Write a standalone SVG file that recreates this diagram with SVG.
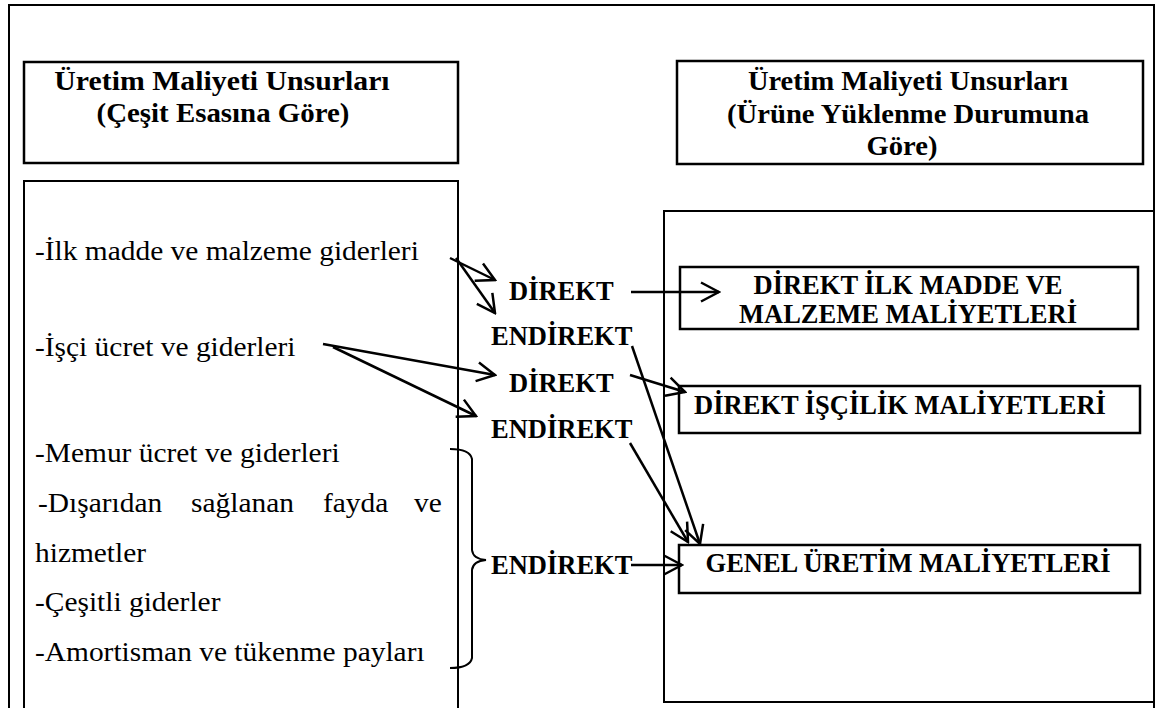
<svg xmlns="http://www.w3.org/2000/svg" width="1157" height="708" viewBox="0 0 1157 708">
  <style>
    .frame { fill: none; stroke: #000; stroke-width: 2; }
    .box { fill: #fff; stroke: #000; stroke-width: 2.5; }
    .title { font-family: "Liberation Serif", "Times New Roman", serif; font-weight: bold; font-size: 27.5px; fill: #000; text-anchor: middle; }
    .item { font-family: "Liberation Serif", "Times New Roman", serif; font-size: 27.5px; fill: #000; }
    .lbl { font-family: "Liberation Serif", "Times New Roman", serif; font-weight: bold; font-size: 26.5px; fill: #000; }
    .cap { font-family: "Liberation Serif", "Times New Roman", serif; font-weight: bold; font-size: 26.5px; fill: #000; text-anchor: middle; }
    .arrow { fill: none; stroke: #000; stroke-width: 2.5; marker-end: url(#open); }
    .brace { fill: none; stroke: #000; stroke-width: 2; }
  </style>
  <defs>
    <marker id="open" markerUnits="userSpaceOnUse" viewBox="-22 -13 24 26" markerWidth="24" markerHeight="26" refX="0" refY="0" orient="auto">
      <path d="M-18,-9.5 L0,0 L-18,9.5" fill="none" stroke="#000" stroke-width="2.5" stroke-linejoin="miter"/>
    </marker>
  </defs>

  <rect width="1157" height="708" fill="#fff"/>

  <!-- outer frame, open at the bottom -->
  <path class="frame" d="M9,708 V5 H1154 V708"/>

  <!-- left column: cost elements by type -->
  <g id="left-title">
    <rect class="box" x="24" y="62" width="434" height="101"/>
    <text class="title" transform="translate(222 90) scale(1.084 1)">Üretim Maliyeti Unsurları</text>
    <text class="title" transform="translate(223 122) scale(1.05 1)">(Çeşit Esasına Göre)</text>
  </g>

  <g id="left-list">
    <path class="frame" d="M24,708 V181 H458 V708"/>
    <text class="item" transform="translate(35 260) scale(1.07 1)">-İlk madde ve malzeme giderleri</text>
    <text class="item" transform="translate(35 356) scale(1.07 1)">-İşçi ücret ve giderleri</text>
    <text class="item" transform="translate(35 462) scale(1.07 1)">-Memur ücret ve giderleri</text>
    <text class="item" transform="translate(38 512) scale(1.07 1)">-Dışarıdan</text>
    <text class="item" transform="translate(191 512) scale(1.07 1)">sağlanan</text>
    <text class="item" transform="translate(323 512) scale(1.07 1)">fayda</text>
    <text class="item" transform="translate(414 512) scale(1.07 1)">ve</text>
    <text class="item" transform="translate(35 562) scale(1.07 1)">hizmetler</text>
    <text class="item" transform="translate(35 611) scale(1.07 1)">-Çeşitli giderler</text>
    <text class="item" transform="translate(35 661) scale(1.07 1)">-Amortisman ve tükenme payları</text>
  </g>

  <!-- right column: cost elements by assignment to product -->
  <g id="right-title">
    <rect class="box" x="677" y="61" width="466" height="103"/>
    <text class="title" transform="translate(908 90) scale(1.035 1)">Üretim Maliyeti Unsurları</text>
    <text class="title" transform="translate(908 123) scale(1.043 1)">(Ürüne Yüklenme Durumuna</text>
    <text class="title" transform="translate(902 155) scale(1.04 1)">Göre)</text>
  </g>

  <g id="right-panel">
    <rect class="frame" x="664" y="211" width="490" height="491"/>
  </g>

  <g id="direct-materials">
    <rect class="box" x="680" y="267" width="458" height="62"/>
    <text class="cap" x="908" y="294">DİREKT İLK MADDE VE</text>
    <text class="cap" x="908" y="323">MALZEME MALİYETLERİ</text>
  </g>

  <g id="direct-labour">
    <rect class="box" x="679" y="386" width="461" height="47"/>
    <text class="cap" x="900" y="414">DİREKT İŞÇİLİK MALİYETLERİ</text>
  </g>

  <g id="overhead">
    <rect class="box" x="679" y="545" width="461" height="48"/>
    <text class="cap" x="908" y="572">GENEL ÜRETİM MALİYETLERİ</text>
  </g>

  <!-- classification labels -->
  <g id="labels">
    <text class="lbl" x="509" y="300">DİREKT</text>
    <text class="lbl" x="491" y="345">ENDİREKT</text>
    <text class="lbl" x="509" y="392">DİREKT</text>
    <text class="lbl" x="491" y="438">ENDİREKT</text>
    <text class="lbl" x="491" y="574">ENDİREKT</text>
  </g>

  <!-- connectors -->
  <g id="connectors">
    <line class="arrow" x1="450" y1="258" x2="495" y2="280"/>
    <line class="arrow" x1="456" y1="258" x2="495" y2="313"/>
    <line class="arrow" x1="323" y1="344" x2="495" y2="375"/>
    <line class="arrow" x1="333" y1="347" x2="476" y2="416"/>
    <line class="arrow" x1="631" y1="292" x2="719" y2="292"/>
    <line class="arrow" x1="630" y1="375" x2="685" y2="392"/>
    <line class="arrow" x1="632" y1="346" x2="700" y2="544"/>
    <line class="arrow" x1="630" y1="443" x2="688" y2="542"/>
    <line class="arrow" x1="631" y1="565" x2="682" y2="565"/>
    <path class="brace" d="M450,449 Q470,449 472,459 L472,550 Q473,559 486,560 Q473,561 472,570 L472,658 Q470,668 450,668"/>
  </g>
</svg>
